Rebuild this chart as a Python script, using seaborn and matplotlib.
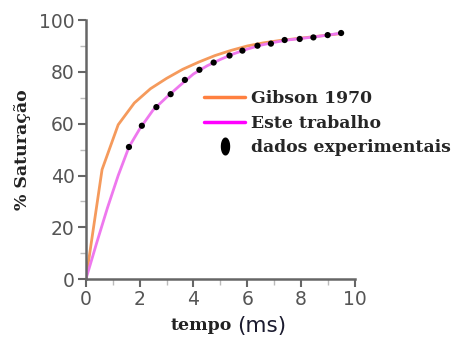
import numpy as np
import pandas as pd
import matplotlib
matplotlib.use("Agg")
import matplotlib.pyplot as plt
from matplotlib.lines import Line2D
from matplotlib.path import Path
import seaborn as sns

# ── Data ──────────────────────────────────────────────────────────────────────
GIBSON_T   = [0, 0.6, 1.2, 1.8, 2.4, 3.0, 3.6, 4.2, 4.8, 5.4, 6.0, 6.6, 7.2,
              7.8, 8.4, 9.0, 9.5]
GIBSON_SAT = [0, 42.3, 59.6, 68.0, 73.5, 77.5, 81.0, 83.8, 86.3, 88.3, 90.0,
              91.2, 92.1, 92.8, 93.5, 94.2, 94.8]

MODEL_T   = [0, 0.4, 0.8, 1.2, 1.6, 2.0, 2.5, 3.0, 3.5, 4.0, 4.5, 5.0, 5.5,
             6.0, 6.5, 7.0, 7.5, 8.0, 8.5, 9.0, 9.5]
MODEL_SAT = [0, 14.0, 27.5, 40.0, 51.0, 58.0, 65.3, 70.2, 74.8, 79.2, 82.3,
             84.8, 87.0, 88.8, 90.3, 91.4, 92.3, 92.9, 93.5, 94.2, 95.0]

EXP_T   = [1.60, 2.08, 2.62, 3.15, 3.68, 4.22, 4.75, 5.34, 5.82, 6.38, 6.88,
           7.39, 7.95, 8.46, 8.99, 9.49]
EXP_SAT = [51.0, 59.2, 66.4, 71.4, 76.9, 80.8, 83.6, 86.3, 88.2, 90.1, 90.9,
           92.3, 92.7, 93.3, 94.2, 95.0]

ORANGE, PINK = "#F59A5C", "#EE78EE"
GREY = "#666666"

sns.set_style("ticks")
plt.rcParams["font.family"] = ["DejaVu Sans"]

fig = plt.figure(figsize=(4.62, 3.40), dpi=100, facecolor="white")
ax = fig.add_axes([0.186, 0.179, 0.582, 0.762])

gib = pd.DataFrame({"t": GIBSON_T, "s": GIBSON_SAT})
mod = pd.DataFrame({"t": MODEL_T, "s": MODEL_SAT})
exp = pd.DataFrame({"t": EXP_T, "s": EXP_SAT})

sns.lineplot(data=gib, x="t", y="s", color=ORANGE, lw=2, ax=ax, legend=False)
sns.lineplot(data=mod, x="t", y="s", color=PINK, lw=2, ax=ax, legend=False)
sns.scatterplot(data=exp, x="t", y="s", color="black", s=20, ax=ax,
                edgecolor="none", legend=False, zorder=5)

ax.set_xlim(0, 10)
ax.set_ylim(0, 100)
ax.set_xticks(range(0, 11, 2))
ax.set_xticks(range(1, 10, 2), minor=True)
ax.set_yticks(range(0, 101, 20))
ax.set_yticks(range(10, 100, 20), minor=True)
for s in ["top", "right"]:
    ax.spines[s].set_visible(False)
for s in ["left", "bottom"]:
    ax.spines[s].set_color(GREY)
    ax.spines[s].set_linewidth(1.8)
ax.tick_params(which="major", length=6, width=1.5, color=GREY,
               labelsize=13.5, labelcolor="#555555", pad=2)
ax.tick_params(which="minor", length=4, width=1, color="#BBBBBB")
ax.set_xlabel("")
ax.set_ylabel("")

serif_b = dict(family="DejaVu Serif", fontweight="bold", color="#222222")
fig.text(0.048, 0.56, "% Saturação", rotation=90, ha="center", va="center",
         fontsize=12.5, **serif_b)
fig.text(0.503, 0.043, "tempo", ha="right", va="center", fontsize=12.5,
         **serif_b)
fig.text(0.513, 0.040, "(ms)", ha="left", va="center", fontsize=15.5,
         color="#1a1a2e", family="DejaVu Sans")

# vertical ellipse marker for the legend
th = np.linspace(0, 2 * np.pi, 40)
ellipse = Path(np.column_stack([0.48 * np.cos(th), np.sin(th)]), closed=True)

handles = [
    Line2D([], [], color="#FF8040", lw=2.5),
    Line2D([], [], color="#FF00FF", lw=2.5),
    Line2D([], [], ls="none", marker=ellipse, color="black", markersize=12),
]
labels = ["Gibson 1970", "Este trabalho", "dados experimentais"]
fig.legend(handles, labels, loc="center left", bbox_to_anchor=(0.408, 0.638),
           frameon=False, handlelength=2.4, handletextpad=0.35,
           labelspacing=0.42, prop=dict(family="DejaVu Serif", weight="bold",
                                       size=12.4))

plt.savefig("out.png", dpi=100, facecolor="white")
plt.close()
